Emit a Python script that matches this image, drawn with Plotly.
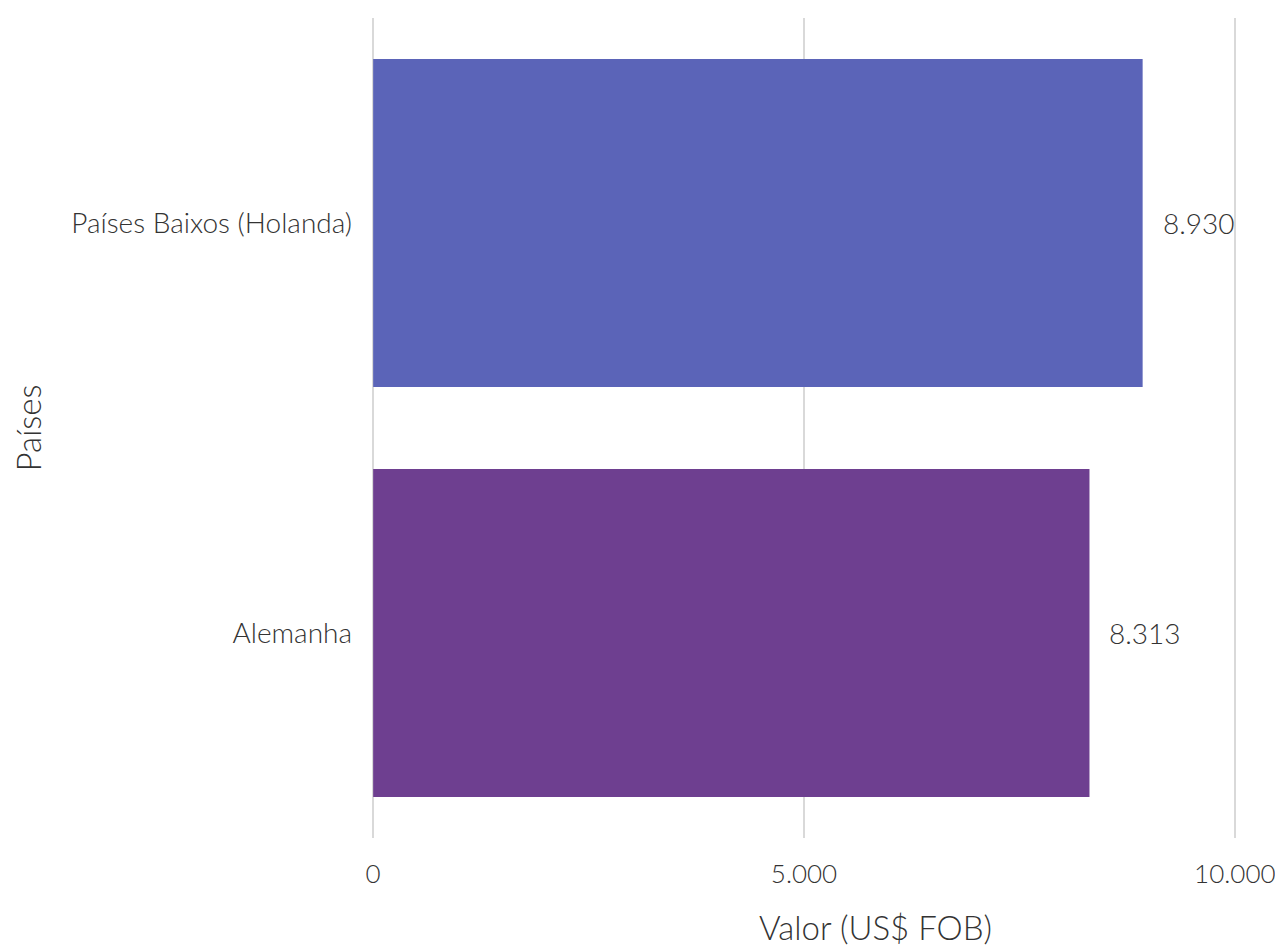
import plotly.graph_objects as go

countries = ["Alemanha", "Países Baixos (Holanda)"]
values = [8313, 8930]
colors = ["#6E3F90", "#5B64B8"]
x_ticks = [0, 5000, 10000]
x_tick_labels = ["0", "5.000", "10.000"]
value_labels = [f"{v:,}".replace(",", ".") for v in values]
x_title = "Valor (US$ FOB)"
y_title = "Países"

font_family = "Lato Light, Lato"
text_color = "#333333"
tick_size = 28
xtick_size = 26
title_size = 33

fig = go.Figure(
    go.Bar(
        y=countries,
        x=values,
        orientation="h",
        marker=dict(color=colors, line=dict(width=0)),
        width=0.8,
        hoverinfo="x+y",
    )
)

for c, v, lbl in zip(countries, values, value_labels):
    fig.add_annotation(
        x=v, y=c, text=lbl, showarrow=False, xanchor="left", xshift=18,
        font=dict(family=font_family, size=tick_size, color=text_color, weight=300),
    )

# x-axis title (offset to the right as in the reference)
fig.add_annotation(
    x=0.582, y=-0.108, xref="paper", yref="paper", text=x_title, showarrow=False,
    xanchor="center", yanchor="middle",
    font=dict(family=font_family, size=title_size, color=text_color, weight=300),
)

fig.update_layout(
    width=1275,
    height=940,
    margin=dict(l=363, r=46, t=10, b=110, autoexpand=False),
    paper_bgcolor="white",
    plot_bgcolor="white",
    showlegend=False,
    separators=",.",
    font=dict(family=font_family, color=text_color, weight=300),
    bargap=0.2,
)

fig.update_xaxes(
    range=[-25, 10025],
    tickvals=x_ticks,
    ticktext=x_tick_labels,
    showgrid=True,
    gridcolor="#d9d9d9",
    gridwidth=2,
    zeroline=False,
    showline=False,
    tickfont=dict(family=font_family, size=xtick_size, color=text_color, weight=300),
    ticklabelstandoff=18,
    automargin=False,
)

fig.update_yaxes(
    showgrid=False,
    zeroline=False,
    showline=False,
    tickfont=dict(family=font_family, size=tick_size, color=text_color, weight=300),
    ticklabelstandoff=18,
    title=dict(text=y_title, font=dict(family=font_family, size=title_size, color=text_color, weight=300), standoff=29),
    automargin=False,
)

fig.write_html("out.html")
